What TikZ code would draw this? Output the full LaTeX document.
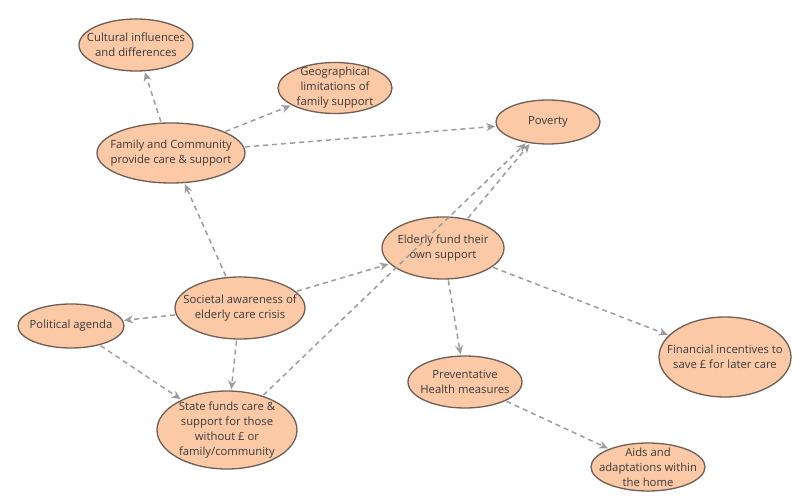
\documentclass[tikz,border=0pt]{standalone}
\usepackage{fontspec}
\setmainfont{Open Sans}
\usetikzlibrary{shapes.geometric,arrows.meta}
\definecolor{peach}{HTML}{FCC9A6}
\definecolor{rim}{HTML}{6E5E55}
\definecolor{ink}{HTML}{3A3A3A}
\definecolor{link}{HTML}{9C9C9C}
\tikzset{
  bubble/.style 2 args={ellipse, draw=rim, fill=peach, line width=1.3pt, inner sep=0pt,
    minimum width=#1, minimum height=#2},
  says/.style={label={[align=center, text=ink, inner sep=0pt,
    font=\fontsize{11.3}{15}\selectfont]center:#1}},
  conn/.style={draw=link, line width=1.5pt, dash pattern=on 5pt off 4pt,
    -{Stealth[length=9pt,width=8pt]}, shorten >=1pt, shorten <=1pt}
}
\begin{document}
\begin{tikzpicture}[x=1pt,y=-1pt]
\useasboundingbox (0,0) rectangle (800,502);
\node[bubble={114pt}{52pt}, says={Cultural influences\\and differences}] (cult) at (136,45) {};
\node[bubble={114pt}{51pt}, says={Geographical\\limitations of\\family support}] (geo) at (335,88) {};
\node[bubble={148pt}{60pt}, says={Family and Community\\provide care \& support}] (fam) at (171,153) {};
\node[bubble={104pt}{44pt}, says={Poverty}] (pov) at (548,122) {};
\node[bubble={122pt}{62pt}, says={Elderly fund their\\own support}] (eld) at (443,248) {};
\node[bubble={130pt}{62pt}, says={Societal awareness of\\elderly care crisis}] (soc) at (240,308) {};
\node[bubble={106pt}{44pt}, says={Political agenda}] (pol) at (71,326) {};
\node[bubble={140pt}{78pt}, says={State funds care \&\\support for those\\without £ or\\family/community}] (state) at (227,430) {};
\node[bubble={114pt}{52pt}, says={Preventative\\Health measures}] (prev) at (465,382) {};
\node[bubble={132pt}{80pt}, says={Financial incentives to\\save £ for later care}] (fin) at (725,357) {};
\node[bubble={114pt}{48pt}, says={Aids and\\adaptations within\\the home}] (aids) at (648,467) {};

\draw[conn] (fam) -- (cult);
\draw[conn] (fam) -- (geo);
\draw[conn] (fam) -- (pov);
\draw[conn] (soc) -- (fam);
\draw[conn] (soc) -- (pol);
\draw[conn] (soc) -- (state);
\draw[conn] (soc) -- (eld);
\draw[conn] (pol) -- (state);
\draw[conn] (state) -- (pov);
\draw[conn] (eld) -- (pov);
\draw[conn] (eld) -- (prev);
\draw[conn] (eld) -- (fin);
\draw[conn] (prev) -- (aids);
\end{tikzpicture}
\end{document}
